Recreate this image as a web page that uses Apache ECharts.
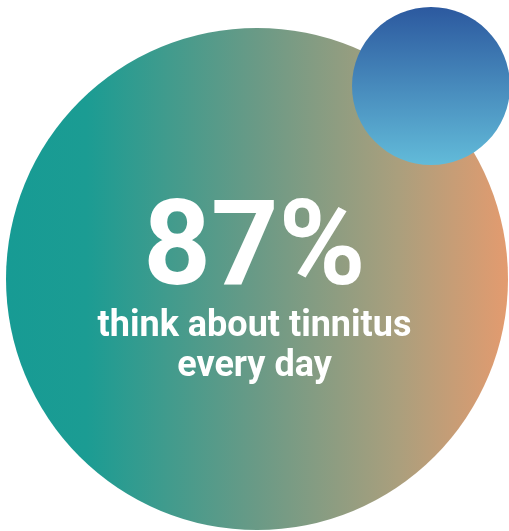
<!DOCTYPE html>
<html lang="en">
<head>
  <meta charset="UTF-8">
  <title>87% think about tinnitus every day</title>
  <script src="https://cdn.jsdelivr.net/npm/echarts@6/dist/echarts.min.js"></script>
  <style>
    * { margin: 0; padding: 0; }
    html, body { width: 100%; height: 100%; background: #fff; }
    #chartbox { width: 509px; height: 531px; }
  </style>
</head>
<body>
<div id="chartbox"></div>
<script>
  // data
  const statPercent = 87
  const statName = 'think about tinnitus every day'
  const captionLines = ['think about tinnitus', 'every day']

  const myChart = echarts.init(document.getElementById('chartbox'))

  // teal -> peach across the big bubble
  const bigFill = new echarts.graphic.LinearGradient(6, 0, 508, 0, [
    { offset: 0, color: '#179b94' },
    { offset: 0.16, color: '#1b9c93' },
    { offset: 0.5, color: '#6a9a86' },
    { offset: 0.78, color: '#aa9f7d' },
    { offset: 1, color: '#e39b6f' }
  ], true)

  const smallFill = new echarts.graphic.LinearGradient(0, 0, 0, 1, [
    { offset: 0, color: '#2c599f' },
    { offset: 1, color: '#62bbd9' }
  ])

  const option = {
    backgroundColor: '#ffffff',
    animation: false,
    title: [
      {
        text: statPercent + '%',
        left: 'center',
        top: 190,
        textStyle: {
          color: '#ffffff',
          fontFamily: 'Roboto',
          fontWeight: 'bold',
          fontSize: 118
        }
      },
      {
        text: captionLines.join('\n'),
        left: 'center',
        top: 302,
        textStyle: {
          color: '#ffffff',
          fontFamily: 'Roboto',
          fontWeight: 'bold',
          fontSize: 36,
          lineHeight: 40,
          align: 'center'
        }
      }
    ],
    series: [
      {
        type: 'pie',
        silent: true,
        center: [257, 279],
        radius: [0, 251],
        label: { show: false },
        labelLine: { show: false },
        itemStyle: { color: bigFill, borderWidth: 0 },
        data: [{ name: statName, value: statPercent }]
      },
      {
        type: 'pie',
        silent: true,
        center: [431, 86],
        radius: [0, 79],
        label: { show: false },
        labelLine: { show: false },
        itemStyle: { color: smallFill, borderWidth: 0 },
        data: [{ name: 'accent', value: 1 }]
      }
    ]
  }
  myChart.setOption(option)
</script>
</body>
</html>
